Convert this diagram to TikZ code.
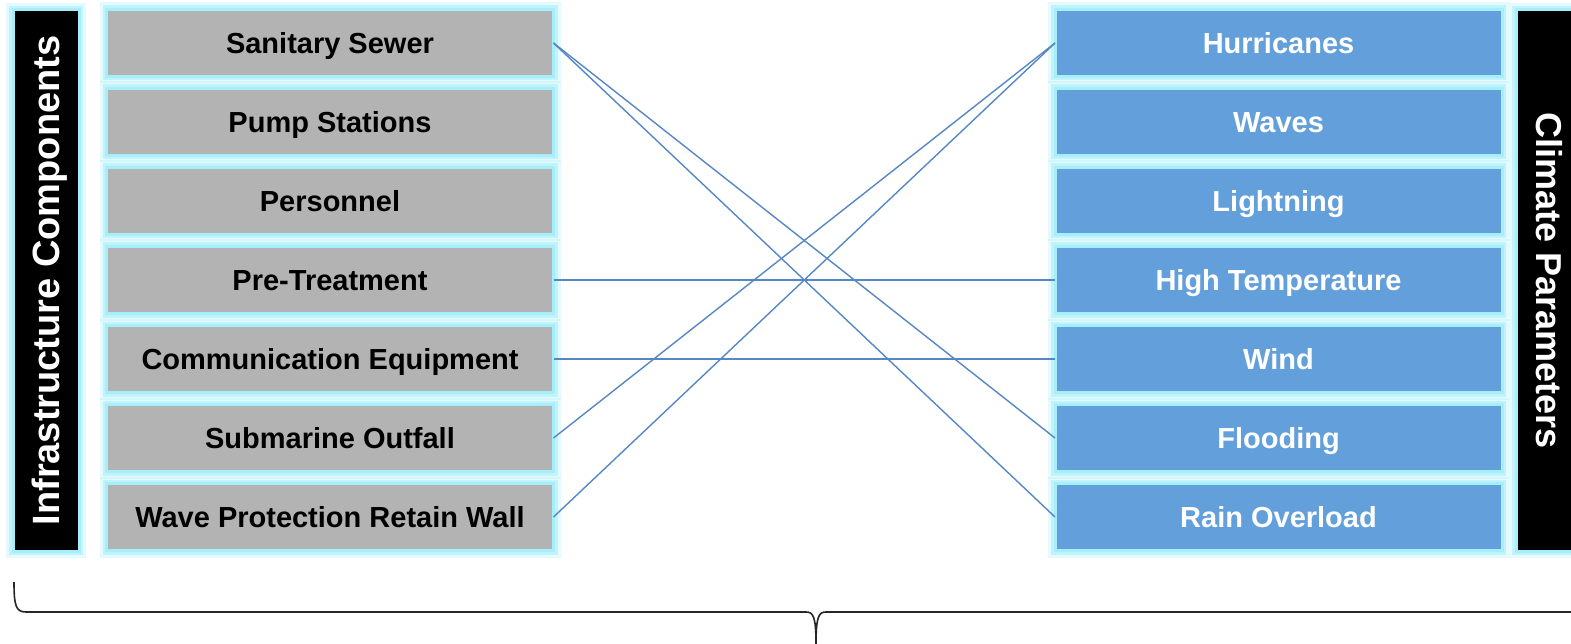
\documentclass[tikz,border=0pt]{standalone}
\usepackage{fontspec}
\setmainfont{Liberation Sans}
\usepackage{xcolor}
\usepackage{tikz}
\usetikzlibrary{arrows.meta, positioning}

\definecolor{compgray}{HTML}{B3B3B3}
\definecolor{parblue}{HTML}{63A0DB}
\definecolor{glowcyan}{HTML}{A5EEFA}
\definecolor{linkblue}{HTML}{5587C2}

\begin{document}
\begin{tikzpicture}[
    x=1pt, y=-1pt,
    glowbox/.style={draw=glowcyan, line width=3pt, outer sep=0pt,
      preaction={draw=glowcyan, line width=14pt, opacity=0.3, rounded corners=5pt},
      preaction={draw=glowcyan, line width=8pt, opacity=0.55, rounded corners=3pt}},
    comp/.style={glowbox, fill=compgray, minimum width=447pt, minimum height=67pt,
      font=\fontsize{29}{34}\selectfont\bfseries, text=black,
      text height=21pt, text depth=0pt},
    param/.style={glowbox, fill=parblue, minimum width=447pt, minimum height=67pt,
      font=\fontsize{29}{34}\selectfont\bfseries, text=white,
      text height=21pt, text depth=0pt},
    bar/.style={glowbox, fill=black, minimum width=541pt, minimum height=66pt,
      font=\fontsize{38}{44}\selectfont\bfseries, text=white,
      text height=27pt, text depth=0pt},
    link/.style={draw=linkblue, line width=1.4pt}
  ]
  \useasboundingbox (0,0) rectangle (1571,644);

  % Side bars
  \node[bar, rotate=90] (infra) at (46,280.5) {Infrastructure Components};
  \node[bar, rotate=-90, font=\fontsize{36}{42}\selectfont\bfseries, text height=26pt]
    (climate) at (1549,280.5) {Climate Parameters};

  % Infrastructure components
  \node[comp] (sewer) at (330,43) {Sanitary Sewer};
  \node[comp, below=12pt of sewer] (pump) {Pump Stations};
  \node[comp, below=12pt of pump] (staff) {Personnel};
  \node[comp, below=12pt of staff] (pretreat) {Pre-Treatment};
  \node[comp, below=12pt of pretreat] (comms) {Communication Equipment};
  \node[comp, below=12pt of comms] (outfall) {Submarine Outfall};
  \node[comp, below=12pt of outfall] (wall) {Wave Protection Retain Wall};

  % Climate parameters
  \node[param] (hurr) at (1278.5,43) {Hurricanes};
  \node[param, below=12pt of hurr] (waves) {Waves};
  \node[param, below=12pt of waves] (light) {Lightning};
  \node[param, below=12pt of light] (hightemp) {High Temperature};
  \node[param, below=12pt of hightemp] (wind) {Wind};
  \node[param, below=12pt of wind] (flood) {Flooding};
  \node[param, below=12pt of flood] (rain) {Rain Overload};

  % Links
  \draw[link] (sewer.east) -- (flood.west);
  \draw[link] (sewer.east) -- (rain.west);
  \draw[link] (pretreat.east) -- (hightemp.west);
  \draw[link] (comms.east) -- (wind.west);
  \draw[link] (outfall.east) -- (hurr.west);
  \draw[link] (wall.east) -- (hurr.west);

  % Brace under everything
  \draw[line width=1.6pt, black!85]
    (14,582) .. controls (14,606) and (16,612) .. (26,612) -- (806,612)
    .. controls (813,612) and (816,616) .. (816,644)
    (816,644) .. controls (816,616) and (819,612) .. (826,612) -- (1606,612)
    .. controls (1616,612) and (1618,606) .. (1618,582);
\end{tikzpicture}
\end{document}
